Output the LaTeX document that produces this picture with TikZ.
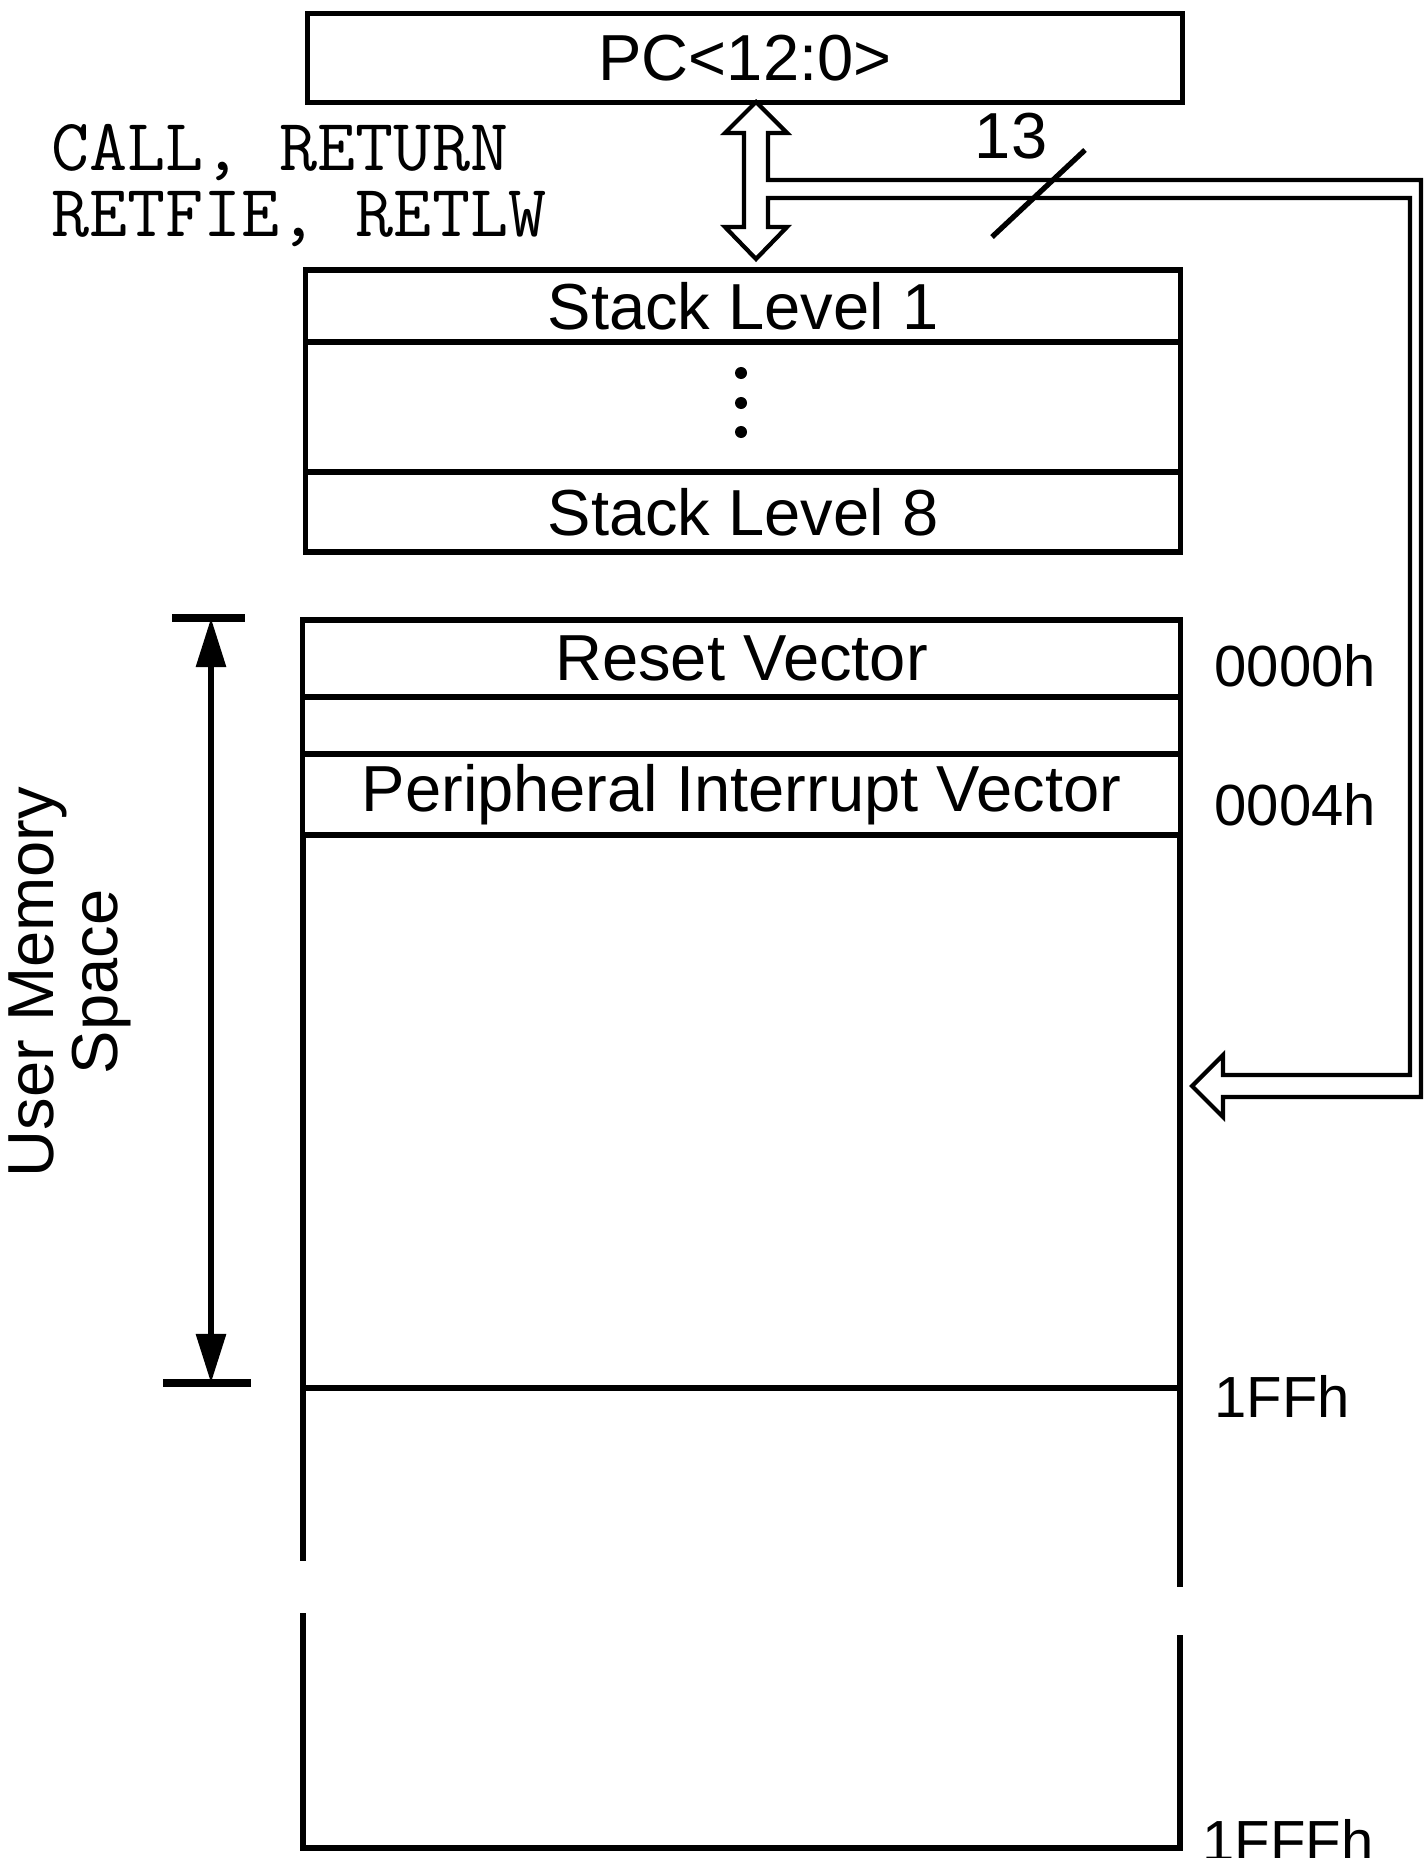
\documentclass[tikz,border=0pt]{standalone}
\usepackage{fontspec}
\setmainfont{Liberation Sans}
\usepackage{tikz}
\usetikzlibrary{arrows.meta}

\begin{document}
\begin{tikzpicture}[
    x=0.01cm,
    y=-0.01cm,
    box/.style={
        draw,
        line width=1.5pt,
        inner sep=0pt,
        minimum width=8.75cm,
        font=\fontsize{18.5}{20}\selectfont
    },
    outline/.style={
        line width=1.5pt
    },
    address/.style={
        anchor=west,
        inner sep=0pt,
        font=\fontsize{16.5}{18}\selectfont
    },
    bus/.style={
        line width=1.2pt,
        line join=miter
    },
    span/.style={
        line width=1.7pt,
        {Triangle[length=4.9mm,width=2.9mm]}-{Triangle[length=4.9mm,width=2.9mm]}
    },
    spanbar/.style={
        line width=2.2pt
    }
]
\useasboundingbox (0,0) rectangle (1425,1858);

%------------------------------------------------
% Program counter
%------------------------------------------------
\node[box,minimum height=0.89cm] (pc) at (745,58) {PC<12:0>};

\node[anchor=north west,align=left,inner sep=0pt,
      font=\ttfamily\fontsize{21}{18.7}\selectfont]
    (opcodes) at (51,124) {CALL, RETURN\\RETFIE, RETLW};

%------------------------------------------------
% Stack
%------------------------------------------------
\node[box,minimum height=0.72cm] (levelone) at (743,306) {Stack Level 1};
\node[box,minimum height=1.30cm] (levelmid) at (743,407) {};
\node[box,minimum height=0.80cm] (leveleight) at (743,512) {Stack Level 8};

\foreach \y in {373,403,432}
    \fill (741,\y) circle[radius=0.06cm];

%------------------------------------------------
% Double arrow and 13-bit bus (one outline)
%------------------------------------------------
\draw[bus]
    (768,180) -- (1421,180) -- (1421,1097) -- (1223,1097)
    -- (1223,1117) -- (1192,1086) -- (1223,1055) -- (1223,1075)
    -- (1410,1075) -- (1410,198) -- (768,198) -- (768,227)
    -- (787,227) -- (756,259) -- (725,227) -- (744,227)
    -- (744,133) -- (725,133) -- (756,102) -- (787,133)
    -- (768,133) -- cycle;

\coordinate (slashlow) at (992,237);
\coordinate (slashhigh) at (1085,150);
\draw[outline] (slashlow) -- (slashhigh);
\node[font=\fontsize{18.5}{20}\selectfont] (buswidth) at (1011,136) {13};

%------------------------------------------------
% Program memory
%------------------------------------------------
\node[box,minimum width=8.77cm,minimum height=0.77cm]
    (resetvec) at (741.5,658.5) {Reset Vector};
\node[box,minimum width=8.77cm,minimum height=0.57cm]
    (blankrow) at (741.5,725.5) {};
\node[box,minimum width=8.77cm,minimum height=0.81cm]
    (periphvec) at (741.5,794.5) {Peripheral Interrupt Vector};

\draw[outline] (303,835) -- (303,1561);
\draw[outline] (1180,835) -- (1180,1587);
\draw[outline] (303,1388) -- (1180,1388);
\draw[outline] (303,1613) -- (303,1848) -- (1180,1848) -- (1180,1635);

% Addresses
\node[address] (addrreset) at (1214,666) {0000h};
\node[address] (addrperiph) at (1214,805) {0004h};
\node[address] (addrpage) at (1214,1396) {1FFh};
\node[address] (addrend) at (1202,1840) {1FFFh};

%------------------------------------------------
% User memory span
%------------------------------------------------
\coordinate (spantop) at (211,618);
\coordinate (spanbot) at (211,1383);
\draw[spanbar] (172,618) -- (245,618);
\draw[spanbar] (163,1383) -- (251,1383);
\draw[span] (spantop) -- (spanbot);

\node[rotate=90,align=center,inner sep=0pt,
      font=\fontsize{18.5}{18}\selectfont]
    (userspace) at (70,982) {User Memory\\Space};

\end{tikzpicture}
\end{document}
